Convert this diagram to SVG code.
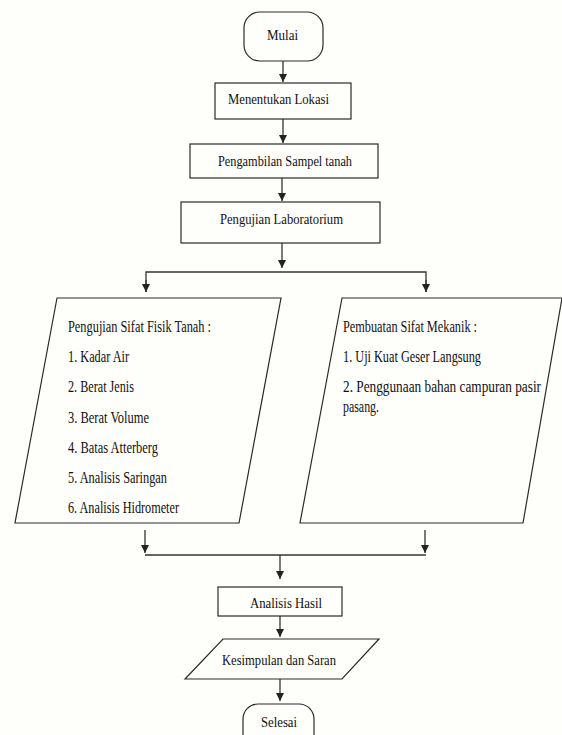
<svg xmlns="http://www.w3.org/2000/svg" width="562" height="735" viewBox="0 0 562 735">
<defs>
<marker id="ah" markerWidth="8" markerHeight="10" refX="8" refY="4" orient="auto" markerUnits="userSpaceOnUse">
<path d="M0,0 L8,4 L0,8 Z" fill="#222"/>
</marker>
<style>
.shape{fill:none;stroke:#2a2a2a;stroke-width:1.2}
.conn{fill:none;stroke:#333;stroke-width:1.3}
.arr{marker-end:url(#ah)}
text{font-family:'Liberation Serif','Times New Roman',serif;fill:#111}
.t15{font-size:15px}
.t16{font-size:16px}
</style>
</defs>
<rect width="562" height="735" fill="#fefefa"/>
<g id="connectors">
<line class="conn arr" x1="283" y1="61" x2="283" y2="82"/>
<line class="conn arr" x1="283" y1="119" x2="283" y2="143"/>
<line class="conn arr" x1="282" y1="178" x2="282" y2="201"/>
<line class="conn arr" x1="282" y1="243" x2="282" y2="268"/>
<polyline class="conn" points="146,292 146,272 426,272 426,292"/>
<line class="conn arr" x1="146" y1="280" x2="146" y2="292"/>
<line class="conn arr" x1="426" y1="280" x2="426" y2="292"/>
<line class="conn arr" x1="145" y1="530" x2="145" y2="553"/>
<line class="conn arr" x1="425" y1="530" x2="425" y2="553"/>
<line class="conn" x1="145" y1="555" x2="426" y2="555"/>
<line class="conn arr" x1="280" y1="555" x2="280" y2="579"/>
<line class="conn arr" x1="280" y1="616" x2="280" y2="637"/>
<line class="conn arr" x1="280" y1="679" x2="280" y2="701"/>
</g>
<g font-family="Liberation Serif, Times New Roman, serif">
<g id="mulai">
<rect class="shape" x="244" y="12" width="79" height="49" rx="16"/>
<text class="t15" x="267" y="40" textLength="31" lengthAdjust="spacingAndGlyphs">Mulai</text>
</g>
<g id="menentukan">
<rect class="shape" x="215" y="83" width="136" height="36"/>
<text class="t15" x="228" y="104" textLength="101" lengthAdjust="spacingAndGlyphs">Menentukan Lokasi</text>
</g>
<g id="pengambilan">
<rect class="shape" x="190" y="144" width="188" height="34"/>
<text class="t15" x="218" y="166" textLength="134" lengthAdjust="spacingAndGlyphs">Pengambilan Sampel tanah</text>
</g>
<g id="laboratorium">
<rect class="shape" x="181" y="202" width="199" height="41"/>
<text class="t15" x="220" y="224" textLength="123" lengthAdjust="spacingAndGlyphs">Pengujian Laboratorium</text>
</g>
<g id="fisik">
<polygon class="shape" points="57,298 281,298 239,523 15,523"/>
<text class="t16" x="68" y="332" textLength="143" lengthAdjust="spacingAndGlyphs">Pengujian Sifat Fisik Tanah :</text>
<text class="t16" x="68" y="362" textLength="61" lengthAdjust="spacingAndGlyphs">1. Kadar Air</text>
<text class="t16" x="68" y="392" textLength="66" lengthAdjust="spacingAndGlyphs">2. Berat Jenis</text>
<text class="t16" x="68" y="423" textLength="81" lengthAdjust="spacingAndGlyphs">3. Berat Volume</text>
<text class="t16" x="68" y="453" textLength="90" lengthAdjust="spacingAndGlyphs">4. Batas Atterberg</text>
<text class="t16" x="68" y="483" textLength="99" lengthAdjust="spacingAndGlyphs">5. Analisis Saringan</text>
<text class="t16" x="68" y="513" textLength="111" lengthAdjust="spacingAndGlyphs">6. Analisis Hidrometer</text>
</g>
<g id="mekanik">
<polygon class="shape" points="342,298 562,298 523,523 300,523"/>
<text class="t16" x="343" y="332" textLength="134" lengthAdjust="spacingAndGlyphs">Pembuatan Sifat Mekanik :</text>
<text class="t16" x="343" y="362" textLength="138" lengthAdjust="spacingAndGlyphs">1. Uji Kuat Geser Langsung</text>
<text class="t16" x="343" y="392" textLength="198" lengthAdjust="spacingAndGlyphs">2. Penggunaan bahan campuran pasir</text>
<text class="t16" x="343" y="412" textLength="36" lengthAdjust="spacingAndGlyphs">pasang.</text>
</g>
<g id="analisis">
<rect class="shape" x="218" y="587" width="124" height="29"/>
<text class="t15" x="250" y="608" textLength="72" lengthAdjust="spacingAndGlyphs">Analisis Hasil</text>
</g>
<g id="kesimpulan">
<polygon class="shape" points="223,639 379,639 342,679 185,679"/>
<text class="t15" x="222" y="665" textLength="114" lengthAdjust="spacingAndGlyphs">Kesimpulan dan Saran</text>
</g>
<g id="selesai">
<rect class="shape" x="243" y="704" width="71" height="45" rx="15"/>
<text class="t15" x="261" y="727" textLength="36" lengthAdjust="spacingAndGlyphs">Selesai</text>
</g>
</g>
</svg>
